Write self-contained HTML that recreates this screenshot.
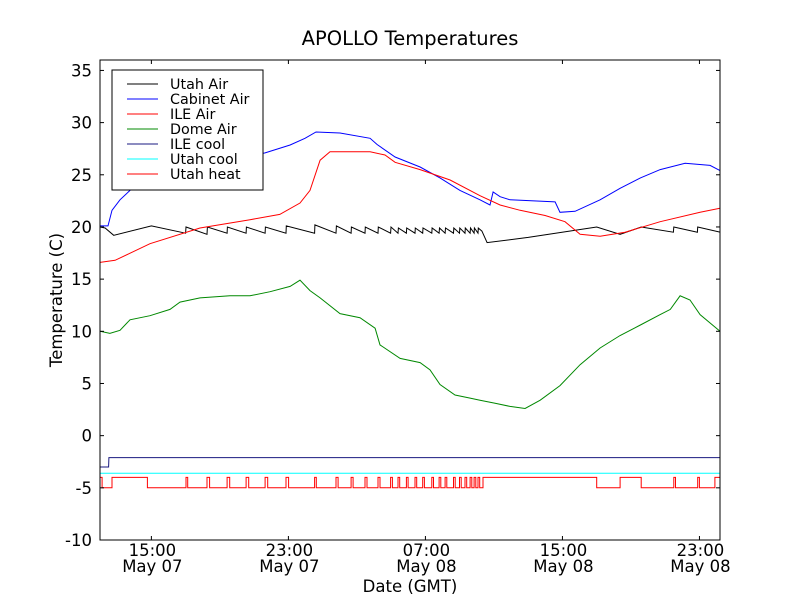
<!DOCTYPE html>
<html><head><meta charset="utf-8"><style>
html,body{margin:0;padding:0;background:#fff;}
svg{display:block;font-family:"DejaVu Sans","Liberation Sans",sans-serif;}
</style></head><body>
<svg id="chart" width="800" height="600" viewBox="0 0 800 600">
<rect width="800" height="600" fill="#fff"/>
<text x="410" y="45" font-size="19.5" text-anchor="middle">APOLLO Temperatures</text>
<text transform="translate(62,300) rotate(-90)" font-size="16.5" text-anchor="middle">Temperature (C)</text>
<text x="410" y="592" font-size="16.5" text-anchor="middle">Date (GMT)</text>
<g id="plot"></g>
</svg>
<script>
// time in hours since 12:00 May 07
const yTicks=[-10,-5,0,5,10,15,20,25,30,35];
const xTicks=[3,11,19,27,35];
const xTickTime=["15:00","23:00","07:00","15:00","23:00"];
const xTickDate=["May 07","May 07","May 08","May 08","May 08"];
const seriesNames=["Utah Air","Cabinet Air","ILE Air","Dome Air","ILE cool","Utah cool","Utah heat"];
const seriesColors=["#000","#00f","#f00","#080","#1a1a80","#0ff","#f00"];
const cabinetT=[0,0.47,0.7,1.17,1.75,2.34,3.5,5.84,8.18,9.64,11.1,11.97,12.61,14.01,15.77,16.18,17.23,18.69,19.85,21.02,22.19,22.77,22.95,23.36,23.94,26.57,26.86,27.74,29.2,30.37,31.55,32.71,34.16,35.62,36.2];
const cabinetV=[20.1,20.1,21.6,22.6,23.5,24.4,25.2,26.0,26.6,27.1,27.85,28.5,29.1,29.0,28.5,27.9,26.7,25.75,24.7,23.5,22.6,22.1,23.35,22.9,22.6,22.4,21.4,21.5,22.6,23.7,24.7,25.5,26.1,25.9,25.4];
const ileT=[0,0.88,2.92,5.84,8.76,10.5,11.68,12.26,12.85,13.43,15.77,16.64,17.23,18.69,20.44,22.19,23.36,24.53,25.99,27.15,28.03,29.2,30.66,32.71,35.04,36.2];
const ileV=[16.6,16.8,18.4,19.9,20.7,21.2,22.3,23.5,26.4,27.2,27.2,26.9,26.2,25.5,24.5,23.0,22.1,21.6,21.1,20.5,19.3,19.1,19.5,20.5,21.4,21.8];
const domeT=[0,0.58,1.17,1.75,2.92,4.09,4.67,5.84,7.59,8.76,9.93,11.1,11.68,12.26,12.85,14.01,15.18,16.06,16.35,17.52,18.69,19.27,19.85,20.73,21.61,22.19,23.07,23.94,24.82,25.7,26.86,28.03,29.2,30.37,31.55,32.71,33.3,33.87,34.45,35.04,36.2];
const domeV=[10.0,9.8,10.1,11.1,11.5,12.1,12.8,13.2,13.4,13.4,13.8,14.3,14.9,13.9,13.2,11.7,11.3,10.3,8.7,7.4,7.0,6.3,4.9,3.9,3.6,3.4,3.1,2.8,2.6,3.4,4.8,6.8,8.4,9.6,10.6,11.6,12.1,13.4,13.0,11.6,10.0];
const heatOn=[[0,0.12],[0.7,2.77],[5.02,5.12],[6.25,6.4],[7.42,7.57],[8.53,8.68],[9.64,9.79],[10.86,11.01],[12.53,12.63],[13.78,13.9],[14.66,14.78],[15.47,15.59],[16.23,16.35],[16.97,17.07],[17.4,17.5],[17.89,17.99],[18.39,18.49],[18.84,18.94],[19.37,19.47],[19.8,19.9],[20.15,20.25],[20.64,20.74],[20.99,21.09],[21.31,21.41],[21.61,21.71],[21.84,21.94],[22.07,22.17],[22.36,29.0],[30.37,31.6],[33.5,33.6],[34.9,35.0],[35.9,36.3]];
const utahAirT=[0,0.3,0.8,3.0,5.0,5.02,6.25,6.27,7.42,7.44,8.53,8.55,9.64,9.66,10.86,10.88,12.53,12.55,13.78,13.8,14.66,14.68,15.47,15.49,16.23,16.25,16.97,16.99,17.4,17.42,17.89,17.91,18.39,18.41,18.84,18.86,19.37,19.39,19.8,19.82,20.15,20.17,20.64,20.66,20.99,21.01,21.31,21.33,21.61,21.63,21.84,21.86,22.07,22.09,22.3,22.6,25.0,29.0,30.37,31.6,33.48,33.5,34.88,34.9,36.2];
const utahAirV=[20.0,19.9,19.2,20.1,19.4,20.0,19.3,20.0,19.4,20.0,19.4,20.0,19.4,20.0,19.4,20.1,19.4,20.2,19.4,20.1,19.4,20.0,19.4,20.0,19.4,20.0,19.4,20.0,19.4,19.9,19.4,19.9,19.4,19.9,19.4,19.9,19.4,19.9,19.4,19.9,19.4,19.9,19.4,19.9,19.4,19.9,19.4,19.9,19.4,19.9,19.4,19.9,19.4,19.9,19.6,18.5,19.0,20.0,19.3,20.0,19.5,20.0,19.5,20.0,19.5];
const ileCoolT=[0,0.5,0.52,36.2];
const ileCoolV=[-3.0,-3.0,-2.1,-2.1];
const utahCoolT=[0,36.2];
const utahCoolV=[-3.6,-3.6];

const L=100,R=720,T=60,B=540,xMin=0,xMax=36.2,yMin=-10,yMax=36;
const X=h=>L+(h-xMin)/(xMax-xMin)*(R-L);
const Y=v=>B-(v-yMin)/(yMax-yMin)*(B-T);
const NS="http://www.w3.org/2000/svg";
const g=document.getElementById('plot');
function mk(tag,attrs,parent){const e=document.createElementNS(NS,tag);for(const k in attrs)e.setAttribute(k,attrs[k]);(parent||g).appendChild(e);return e;}
const clip=mk('clipPath',{id:'cp'});mk('rect',{x:L,y:T,width:R-L,height:B-T},clip);
function line(ts,vs,color,name){
  const p=mk('polyline',{points:ts.map((t,i)=>X(t).toFixed(1)+','+Y(vs[i]).toFixed(1)).join(' '),fill:'none',stroke:color,'stroke-width':1,'clip-path':'url(#cp)'});
  
  
}
const heatT=[],heatV=[];
heatOn.forEach(([a,b])=>{heatT.push(a,a,b,b);heatV.push(-5,-4,-4,-5);});
heatT.unshift(0);heatV.unshift(-5);heatT.push(36.2);heatV.push(-5);
line(utahCoolT,utahCoolV,'#0ff','utah-cool-line');
line(ileCoolT,ileCoolV,'#1a1a80','ile-cool-line');
line(heatT,heatV,'#f00','utah-heat-line');
line(domeT,domeV,'#080','dome-air-line');
line(utahAirT,utahAirV,'#000','utah-air-line');
line(cabinetT,cabinetV,'#00f','cabinet-air-line');
line(ileT,ileV,'#f00','ile-air-line');
const fr=mk('rect',{x:L,y:T,width:R-L,height:B-T,fill:'none',stroke:'#000','stroke-width':1});


yTicks.forEach(v=>{
  const y=Y(v);
  mk('line',{x1:L,x2:L+4,y1:y,y2:y,stroke:'#000'});
  mk('line',{x1:R-4,x2:R,y1:y,y2:y,stroke:'#000'});
  const t=mk('text',{x:L-8,y:y+6,'font-size':16.5,'text-anchor':'end'});t.textContent=v;
  
  
});
xTicks.forEach((h,i)=>{
  const x=X(h);
  mk('line',{x1:x,x2:x,y1:B,y2:B-4,stroke:'#000'});
  mk('line',{x1:x,x2:x,y1:T,y2:T+4,stroke:'#000'});
  const t=mk('text',{x:x+1,y:556,'font-size':16.5,'text-anchor':'middle'});t.textContent=xTickTime[i];
  
  
  const d=mk('text',{x:x+1,y:572,'font-size':16.5,'text-anchor':'middle'});d.textContent=xTickDate[i];
  
  
});
const lg=mk('g',{});


mk('rect',{x:112,y:70,width:151,height:120,fill:'#fff',stroke:'#000'},lg);
seriesNames.forEach((n,i)=>{
  const y=84+i*15;
  const e=mk('g',{},lg);
  
  
  mk('line',{x1:127,x2:158,y1:y,y2:y,stroke:seriesColors[i]},e);
  const t=mk('text',{x:170,y:y+5,'font-size':14.3},e);t.textContent=n;
});
</script>
</body></html>
